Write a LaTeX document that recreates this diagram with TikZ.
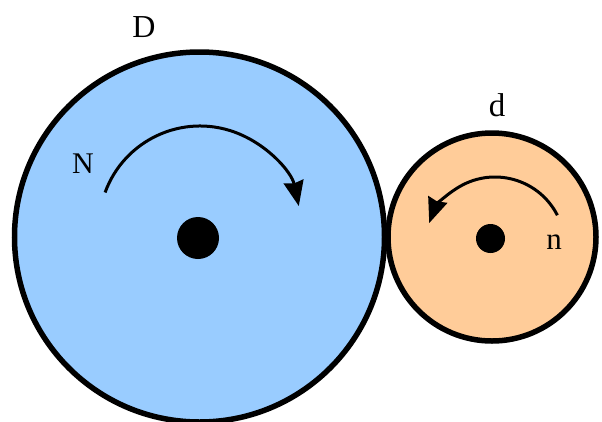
\documentclass[tikz,border=0pt]{standalone}
\usepackage{fontspec}
\setmainfont{Liberation Serif}
\usetikzlibrary{arrows.meta}
\definecolor{gearblue}{HTML}{99CCFF}
\definecolor{gearorange}{HTML}{FFCC99}
\tikzset{
  gear/.style={circle, draw=black, line width=5.5pt, inner sep=0pt},
  hub/.style={circle, fill=black, inner sep=0pt},
  rot/.style={line width=3pt, -{Stealth[length=25pt,width=20pt,inset=2pt]}},
  lbl/.style={anchor=base, inner sep=0pt}
}
\begin{document}
\begin{tikzpicture}[x=1pt,y=-1pt]
\useasboundingbox (0,0) rectangle (602,421);
\node[gear, fill=gearblue, minimum size=370pt] (big) at (199.5,237) {};
\node[gear, fill=gearorange, minimum size=208pt] (small) at (492,237) {};
\node[hub, minimum size=42pt] (bighub) at (198,238) {};
\node[hub, minimum size=29pt] (smallhub) at (490.5,238.5) {};
\draw[rot] (200,227) ++(-160:101) arc[start angle=-160, end angle=-12, radius=101];
\draw[rot] (495,247) ++(-27:70) arc[start angle=-27, end angle=-160, radius=70];
\node[lbl, font=\fontsize{32}{36}\selectfont] (D) at (144,37) {D};
\node[lbl, font=\fontsize{30}{34}\selectfont] (N) at (83,173) {N};
\node[lbl, font=\fontsize{33}{37}\selectfont] (d) at (497,116) {d};
\node[lbl, font=\fontsize{31}{35}\selectfont] (n) at (554,249) {n};
\end{tikzpicture}
\end{document}
